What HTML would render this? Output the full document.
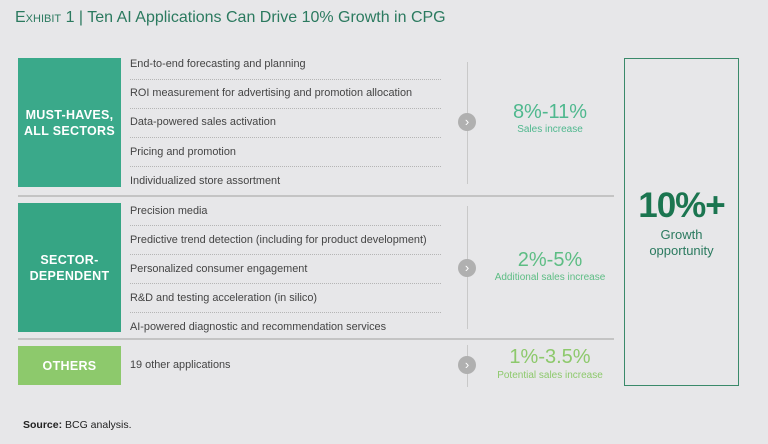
<!DOCTYPE html>
<html><head><meta charset="utf-8"><style>
body{margin:0;width:768px;height:444px;background:#e7e7e9;font-family:"Liberation Sans",sans-serif;position:relative;overflow:hidden}
.a{position:absolute}
.title{left:15px;top:9px;font-size:16px;color:#2b7a5f}
.box{left:18px;width:103px;color:#fff;font-weight:bold;font-size:12.5px;display:flex;align-items:center;justify-content:center;text-align:center;line-height:16px;letter-spacing:.3px}
.row{left:130px;font-size:10.9px;color:#444}
.dot{left:130px;width:311px;border-top:1px dotted #b5b5b5}
.sep{left:18px;width:596px;height:2px;background:#c4c4c4}
.vl{left:467px;width:1px;background:#c9c9c9}
.circ{width:18px;height:18px;border-radius:50%;background:#b0b0b0;left:458px;color:#fff;font-size:13px;line-height:17px;text-align:center}
.pct{left:470px;width:160px;text-align:center;font-size:20px}
.sub{left:470px;width:160px;text-align:center;font-size:10px}
</style></head><body>
<div class="a title"><span style="font-variant:small-caps">Exhibit</span> 1 | Ten AI Applications Can Drive 10% Growth in CPG</div>

<div class="a box" style="top:58px;height:129px;background:#3aa98a">MUST-HAVES,<br>ALL SECTORS</div>
<div class="a box" style="top:203px;height:129px;background:#36a584">SECTOR-<br>DEPENDENT</div>
<div class="a box" style="top:346px;height:39px;background:#8dc96c">OTHERS</div>

<div class="a row" style="top:58px">End-to-end forecasting and planning</div>
<div class="a dot" style="top:79px"></div>
<div class="a row" style="top:87px">ROI measurement for advertising and promotion allocation</div>
<div class="a dot" style="top:108px"></div>
<div class="a row" style="top:116px">Data-powered sales activation</div>
<div class="a dot" style="top:137px"></div>
<div class="a row" style="top:146px">Pricing and promotion</div>
<div class="a dot" style="top:166px"></div>
<div class="a row" style="top:175px">Individualized store assortment</div>
<div class="a sep" style="top:195px"></div>

<div class="a row" style="top:205px">Precision media</div>
<div class="a dot" style="top:225px"></div>
<div class="a row" style="top:234px">Predictive trend detection (including for product development)</div>
<div class="a dot" style="top:254px"></div>
<div class="a row" style="top:263px">Personalized consumer engagement</div>
<div class="a dot" style="top:283px"></div>
<div class="a row" style="top:292px">R&amp;D and testing acceleration (in silico)</div>
<div class="a dot" style="top:312px"></div>
<div class="a row" style="top:321px">AI-powered diagnostic and recommendation services</div>
<div class="a sep" style="top:338px"></div>

<div class="a row" style="top:359px">19 other applications</div>

<div class="a vl" style="top:62px;height:122px"></div>
<div class="a circ" style="top:113px">›</div>
<div class="a vl" style="top:206px;height:123px"></div>
<div class="a circ" style="top:259px">›</div>
<div class="a vl" style="top:345px;height:42px"></div>
<div class="a circ" style="top:356px">›</div>

<div class="a pct" style="top:101px;color:#4fb88e">8%-11%</div>
<div class="a sub" style="top:124px;color:#4fb88e">Sales increase</div>
<div class="a pct" style="top:249px;color:#5dbd84">2%-5%</div>
<div class="a sub" style="top:272px;color:#5dbd84">Additional sales increase</div>
<div class="a pct" style="top:346px;color:#8dc96c">1%-3.5%</div>
<div class="a sub" style="top:370px;color:#8dc96c">Potential sales increase</div>

<div class="a" style="left:624px;top:58px;width:113px;height:326px;border:1px solid #3a8a6a"></div>
<div class="a" style="left:624px;top:186px;width:115px;text-align:center;font-size:35px;font-weight:bold;color:#1b7550;letter-spacing:-1px">10%+</div>
<div class="a" style="left:624px;top:227px;width:115px;text-align:center;font-size:13px;line-height:16px;color:#2b7a5f">Growth<br>opportunity</div>

<div class="a" style="left:23px;top:419px;font-size:10.5px;color:#222"><b>Source:</b> BCG analysis.</div>
</body></html>
